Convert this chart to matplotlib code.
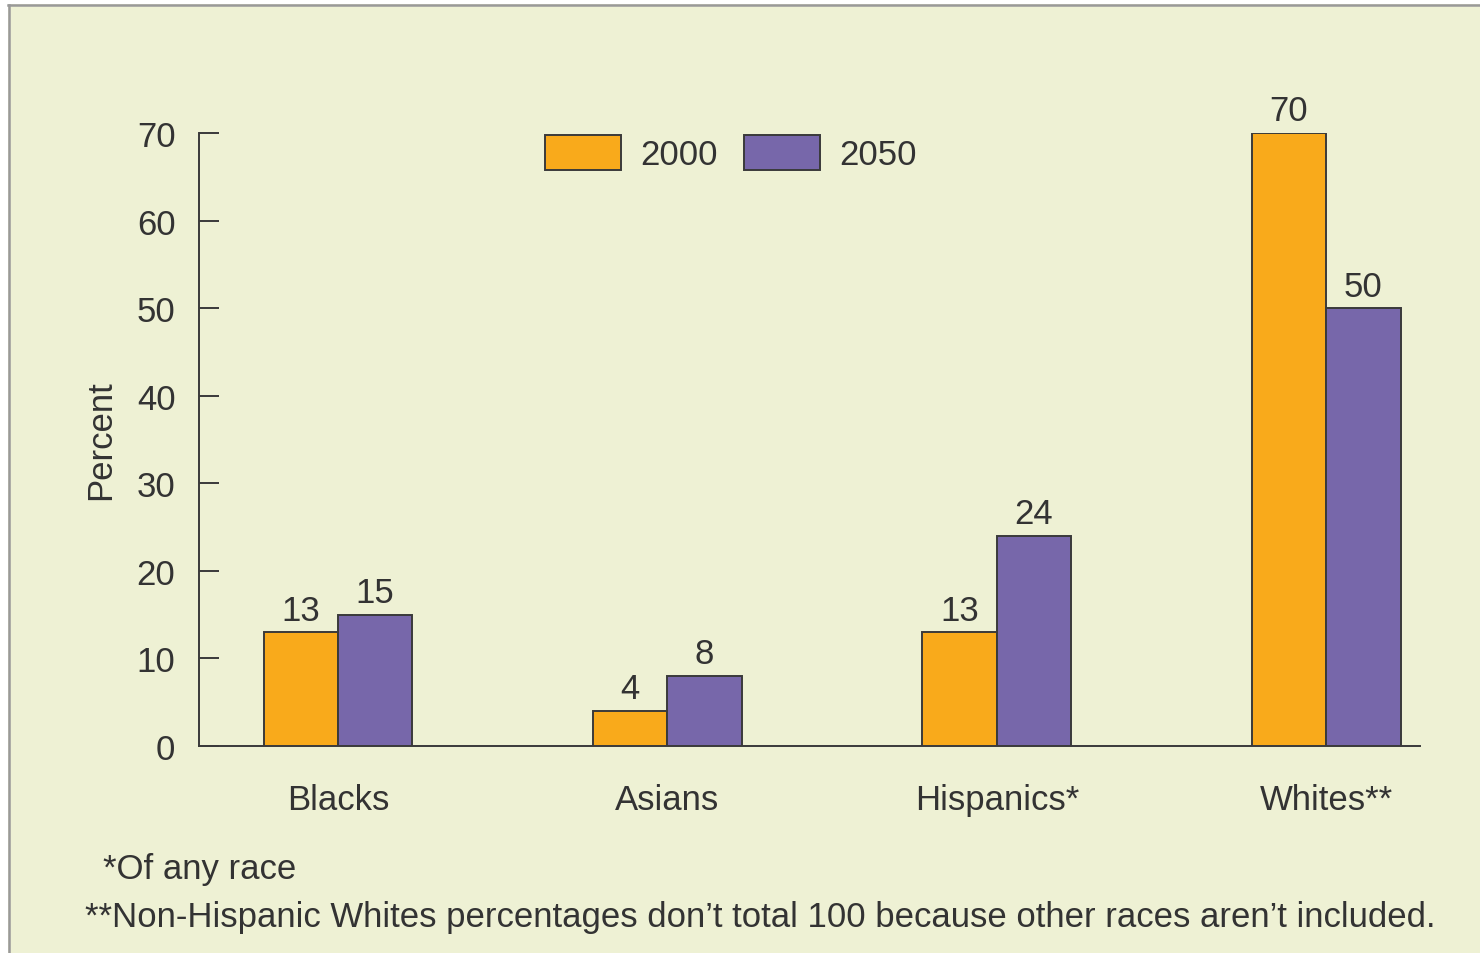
import matplotlib
matplotlib.use("Agg")
import matplotlib.pyplot as plt
import numpy as np
from matplotlib.patches import Rectangle

categories = ["Blacks", "Asians", "Hispanics*", "Whites**"]
series_names = ["2000", "2050"]
values_2000 = [13, 4, 13, 70]
values_2050 = [15, 8, 24, 50]
yticks = [0, 10, 20, 30, 40, 50, 60, 70]
footnotes = ["*Of any race",
             "**Non-Hispanic Whites percentages don\u2019t total 100 because other races aren\u2019t included."]

W, H = 1480, 954
BG = "#EEF1D4"
ORANGE = "#F9AA1B"
PURPLE = "#7767AA"
EDGE = "#3a3a3a"
TXT = "#333333"
FS = 25

plt.rcParams['font.family'] = ['Liberation Sans', 'DejaVu Sans']

fig = plt.figure(figsize=(W/100, H/100), dpi=100, facecolor="white")
# background panel with grey border on top and left
fig.patches.append(Rectangle((8/W, 0), 1, 1 - 5/H, transform=fig.transFigure,
                             facecolor=BG, edgecolor="none", zorder=-10))
fig.lines.append(plt.Line2D([8/W, 1], [1 - 5.5/H, 1 - 5.5/H], transform=fig.transFigure,
                            color="#999999", lw=1.8, zorder=-5))
fig.lines.append(plt.Line2D([8.5/W, 8.5/W], [0, 1 - 5.5/H], transform=fig.transFigure,
                            color="#999999", lw=1.8, zorder=-5))

ax = fig.add_axes([199/W, 207/H, (1420-199)/W, (747-134)/H])
ax.set_facecolor("none")
ax.set_zorder(5)

x = np.arange(len(categories))
bw = 0.226
b1 = ax.bar(x - bw/2, values_2000, bw, color=ORANGE, edgecolor=EDGE, linewidth=1.4,
            label=series_names[0], zorder=3)
b2 = ax.bar(x + bw/2, values_2050, bw, color=PURPLE, edgecolor=EDGE, linewidth=1.4,
            label=series_names[1], zorder=3)

for bars, vals in ((b1, values_2000), (b2, values_2050)):
    for r, v in zip(bars, vals):
        ax.annotate(f"{v}", (r.get_x() + r.get_width()/2, v), xytext=(0, 4),
                    textcoords="offset points", ha="center", va="bottom",
                    fontsize=FS, color=TXT)

ax.set_xlim(-0.422, 3.285)
ax.set_ylim(0, 70)
ax.set_yticks(yticks)
ax.set_yticklabels([str(t) for t in yticks], fontsize=FS, color=TXT)
ax.tick_params(axis="y", direction="in", length=14.4, width=1.4, color=EDGE, pad=17)
ax.set_xticks(x)
ax.set_xticklabels(categories, fontsize=FS, color=TXT)
ax.tick_params(axis="x", length=0, pad=26.5)
for s in ("top", "right"):
    ax.spines[s].set_visible(False)
for s in ("left", "bottom"):
    ax.spines[s].set_color(EDGE)
    ax.spines[s].set_linewidth(1.4)

ax.set_ylabel("Percent", fontsize=FS, color=TXT, labelpad=14)

leg = ax.legend(loc="center", bbox_to_anchor=((731-199)/(1420-199), 1 - (154-134)/(747-134)),
                ncol=2, frameon=False, fontsize=FS, handlelength=2.2, handleheight=1.2,
                handletextpad=0.55, columnspacing=0.75, borderpad=0)
for t in leg.get_texts():
    t.set_color(TXT)

fig.text(103/W, 1 - 870/H, footnotes[0], fontsize=FS, color=TXT, va="center", ha="left")
fig.text(85/W, 1 - 918/H, footnotes[1], fontsize=FS, color=TXT, va="center", ha="left")

fig.savefig("out.png", dpi=100, facecolor="white")
